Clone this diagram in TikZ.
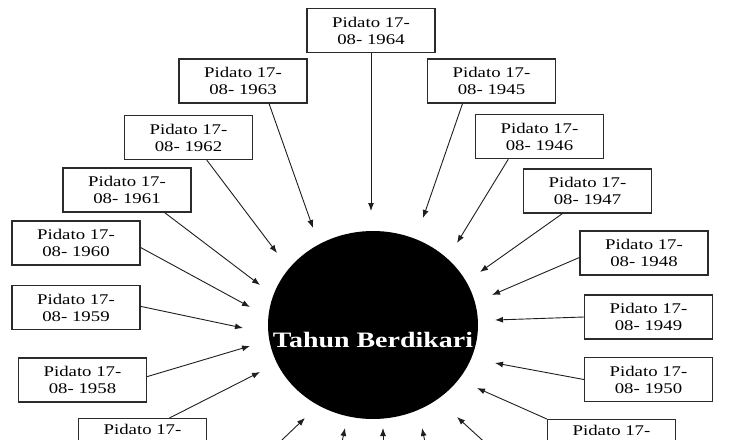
\documentclass[tikz,border=0pt]{standalone}
\usepackage{fontspec}
\setmainfont{Liberation Serif}[FakeStretch=1.27]
\usepackage{xcolor}
\usepackage{tikz}
\usetikzlibrary{arrows.meta,shapes.geometric}
\definecolor{boxline}{HTML}{2B2B2B}
\definecolor{arrowline}{HTML}{1E1E1E}
\tikzset{
  pidato/.style={
    draw=boxline,
    fill=white,
    line width=1.3pt,
    align=center,
    minimum width=128pt,
    minimum height=44pt,
    inner sep=0pt,
    font=\fontsize{14.8}{17}\selectfont
  },
  pidatocut/.style={
    pidato,
    anchor=north,
    minimum height=0pt,
    inner ysep=6pt,
    text depth=30pt
  },
  hub/.style={
    ellipse,
    fill=black,
    minimum width=210pt,
    minimum height=188pt,
    inner sep=0pt
  },
  hubtext/.style={
    text=white,
    font=\fontsize{22}{24}\selectfont\bfseries
  },
  flowarrow/.style={
    -{Latex[length=8pt,width=6pt]},
    line width=0.9pt,
    draw=arrowline
  }
}

\begin{document}
\begin{tikzpicture}[x=1pt,y=-1pt]
    \useasboundingbox (0,0) rectangle (736,439);
    \clip (0,0) rectangle (736,439);

    \node[hub, label={[hubtext, yshift=-15pt]center:Tahun Berdikari}] (hub) at (373,325) {};

    % left half
    \node[pidato] (p1964) at (371,30.5) {Pidato 17-\\08- 1964};
    \node[pidato] (p1963) at (243,81) {Pidato 17-\\08- 1963};
    \node[pidato] (p1962) at (188.5,137.5) {Pidato 17-\\08- 1962};
    \node[pidato] (p1961) at (127,190) {Pidato 17-\\08- 1961};
    \node[pidato] (p1960) at (76,243) {Pidato 17-\\08- 1960};
    \node[pidato] (p1959) at (76,307.5) {Pidato 17-\\08- 1959};
    \node[pidato] (p1958) at (82.5,380) {Pidato 17-\\08- 1958};
    \node[pidatocut] (p1957) at (142.5,418) {Pidato 17-};

    % right half
    \node[pidato] (p1945) at (491.5,81) {Pidato 17-\\08- 1945};
    \node[pidato] (p1946) at (539.5,136.5) {Pidato 17-\\08- 1946};
    \node[pidato] (p1947) at (587.5,191) {Pidato 17-\\08- 1947};
    \node[pidato] (p1948) at (644,253) {Pidato 17-\\08- 1948};
    \node[pidato] (p1949) at (648.5,317) {Pidato 17-\\08- 1949};
    \node[pidato] (p1950) at (648.5,379.5) {Pidato 17-\\08- 1950};
    \node[pidatocut] (p1951) at (611.5,419) {Pidato 17-};

    % arrow tips round the circle
    \coordinate (t1964) at (371,211);
    \coordinate (t1963) at (313,228);
    \coordinate (t1962) at (277,253);
    \coordinate (t1961) at (260,285);
    \coordinate (t1960) at (250,307);
    \coordinate (t1959) at (243,328);
    \coordinate (t1958) at (250,346);
    \coordinate (t1957) at (260,372);
    \coordinate (t1945) at (423,218);
    \coordinate (t1946) at (457,243);
    \coordinate (t1947) at (480,272);
    \coordinate (t1948) at (492,295);
    \coordinate (t1949) at (495,320);
    \coordinate (t1950) at (495,363);
    \coordinate (t1951) at (477,388);

    \draw[flowarrow] (p1964.south) -- (t1964);
    \draw[flowarrow] (p1963.-41) -- (t1963);
    \draw[flowarrow] (p1962.-51) -- (t1962);
    \draw[flowarrow] (p1961.-31) -- (t1961);
    \draw[flowarrow] (p1960.-4) -- (t1960);
    \draw[flowarrow] (p1959.1) -- (t1959);
    \draw[flowarrow] (p1958.3) -- (t1958);
    \draw[flowarrow] (p1957.north) ++(27,0) -- (t1957);
    \draw[flowarrow] (p1945.-142) -- (t1945);
    \draw[flowarrow] (p1946.-144) -- (t1946);
    \draw[flowarrow] (p1947.-138) -- (t1947);
    \draw[flowarrow] (p1948.184) -- (t1948);
    \draw[flowarrow] (p1949.west) -- (t1949);
    \draw[flowarrow] (p1950.west) -- (t1950);
    \draw[flowarrow] (p1951.north west) -- (t1951);

    % arrows coming in from below the frame
    \coordinate (foot1) at (262,459);
    \coordinate (foot2) at (336,470);
    \coordinate (foot3) at (383,470);
    \coordinate (foot4) at (431,470);
    \coordinate (foot5) at (503,459);
    \coordinate (tip1) at (305,418);
    \coordinate (tip2) at (345,428);
    \coordinate (tip3) at (383,428);
    \coordinate (tip4) at (422,428);
    \coordinate (tip5) at (457,417);

    \draw[flowarrow] (foot1) -- (tip1);
    \draw[flowarrow] (foot2) -- (tip2);
    \draw[flowarrow] (foot3) -- (tip3);
    \draw[flowarrow] (foot4) -- (tip4);
    \draw[flowarrow] (foot5) -- (tip5);
\end{tikzpicture}
\end{document}
